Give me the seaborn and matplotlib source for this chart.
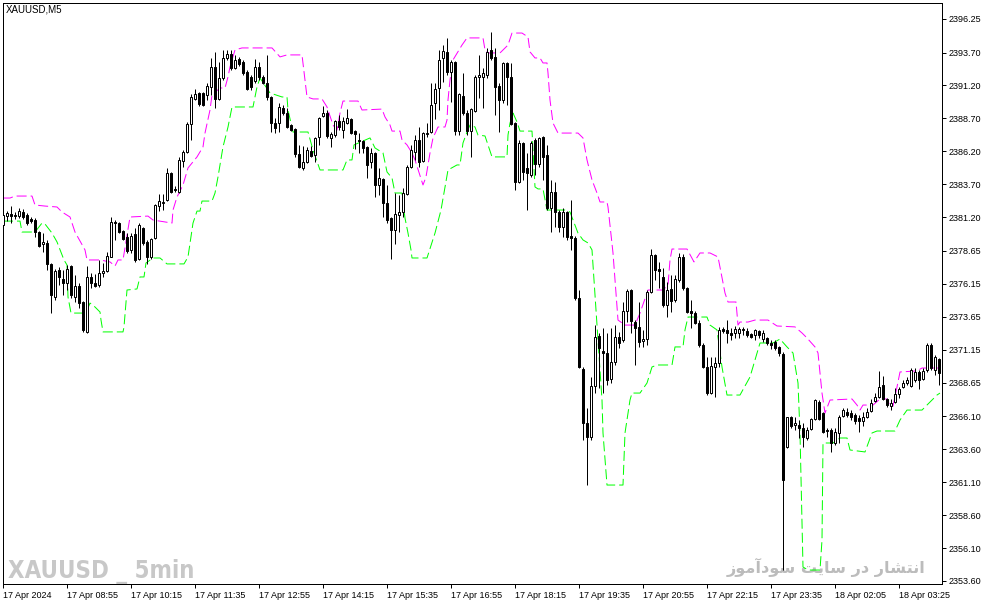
import matplotlib
matplotlib.use("Agg")  # no display
import matplotlib.pyplot as plt
from matplotlib import font_manager
import seaborn as sns
import numpy as np
import pandas as pd

# ─── Data: XAUUSD M5 candles ────────────────────────────────────────────────
opens = [
    2380.61, 2381.29, 2381.45, 2381.37, 2381.29, 2381.60, 2381.37, 2381.07, 2380.99, 2380.08,
    2379.18, 2379.25, 2377.66, 2375.15, 2377.20, 2376.52, 2376.21, 2377.50, 2375.15, 2375.98,
    2374.77, 2372.50, 2376.67, 2376.21, 2376.06, 2376.97, 2377.12, 2378.19, 2380.84, 2380.76,
    2380.15, 2379.70, 2378.72, 2379.93, 2378.04, 2380.38, 2379.33, 2378.19, 2379.63, 2382.05,
    2382.28, 2382.51, 2384.56, 2383.35, 2383.12, 2385.47, 2386.16, 2388.28, 2390.18, 2390.63,
    2390.63, 2390.48, 2391.09, 2392.61, 2390.18, 2391.77, 2393.29, 2393.59, 2392.53, 2393.21,
    2392.99, 2392.23, 2391.85, 2391.54, 2392.61, 2391.85, 2391.39, 2390.33, 2388.35, 2388.35,
    2389.49, 2389.11, 2388.20, 2387.90, 2386.00, 2384.94, 2385.40, 2386.23, 2385.93, 2387.29,
    2388.88, 2389.11, 2387.22, 2387.44, 2388.50, 2387.82, 2388.35, 2388.66, 2387.74, 2387.07,
    2386.99, 2386.54, 2385.40, 2386.08, 2383.65, 2384.10, 2382.28, 2381.14, 2380.23, 2381.37,
    2381.60, 2382.97, 2385.02, 2386.16, 2387.07, 2385.47, 2387.52, 2387.67, 2389.87, 2391.01,
    2393.29, 2393.75, 2392.23, 2392.99, 2387.74, 2390.41, 2389.11, 2387.74, 2389.26, 2391.85,
    2391.85, 2392.00, 2393.90, 2393.37, 2391.17, 2390.10, 2392.91, 2391.85, 2388.35, 2383.88,
    2386.84, 2384.94, 2384.41, 2387.07, 2385.24, 2387.29, 2385.93, 2381.90, 2383.12, 2381.60,
    2380.46, 2381.60, 2379.78, 2379.63, 2375.07, 2369.69, 2365.58, 2364.52, 2368.39, 2372.19,
    2371.05, 2370.90, 2368.92, 2370.22, 2372.11, 2371.89, 2374.08, 2375.68, 2373.25, 2372.88,
    2371.81, 2371.96, 2375.53, 2378.34, 2377.27, 2376.67, 2374.54, 2375.76, 2374.92, 2376.44,
    2378.19, 2375.83, 2374.08, 2373.93, 2373.17, 2371.51, 2369.84, 2367.86, 2369.84, 2370.14,
    2372.72, 2372.65, 2372.42, 2372.42, 2372.42, 2372.72, 2372.57, 2372.34, 2372.27, 2372.57,
    2371.96, 2372.04, 2371.66, 2371.74, 2371.36, 2370.83, 2363.77, 2366.04, 2365.43, 2365.43,
    2365.21, 2364.45, 2365.13, 2365.89, 2367.18, 2366.34, 2365.06, 2365.06, 2364.07, 2364.83,
    2366.11, 2366.42, 2366.34, 2366.19, 2365.96, 2365.74, 2366.04, 2366.49, 2367.26, 2367.56,
    2368.47, 2367.41, 2366.87, 2367.18, 2367.79, 2368.32, 2368.62, 2368.39, 2368.85, 2369.46,
    2368.92, 2369.61, 2371.51, 2369.61, 2370.45,
]
highs = [
    2381.52, 2381.67, 2382.05, 2381.60, 2381.90, 2381.83, 2381.52, 2381.22, 2381.14, 2380.15,
    2380.00, 2379.48, 2377.73, 2377.27, 2377.43, 2377.20, 2377.58, 2377.58, 2376.82, 2376.21,
    2374.84, 2377.50, 2376.97, 2376.90, 2377.96, 2377.73, 2378.57, 2381.22, 2380.99, 2380.84,
    2380.23, 2380.00, 2380.00, 2380.38, 2380.76, 2380.46, 2379.48, 2379.63, 2382.21, 2382.97,
    2382.97, 2384.94, 2384.64, 2383.58, 2385.78, 2386.31, 2388.43, 2390.56, 2390.94, 2390.71,
    2390.71, 2391.39, 2393.29, 2393.75, 2392.99, 2393.90, 2393.90, 2393.90, 2393.52, 2393.37,
    2393.14, 2392.38, 2392.00, 2393.21, 2392.99, 2392.00, 2393.52, 2390.41, 2388.73, 2389.87,
    2389.72, 2389.49, 2388.28, 2387.97, 2386.69, 2386.61, 2386.54, 2386.61, 2387.29, 2388.81,
    2389.64, 2389.34, 2387.67, 2388.58, 2388.96, 2388.81, 2389.41, 2388.73, 2387.82, 2387.59,
    2387.07, 2386.61, 2386.46, 2386.16, 2384.94, 2384.18, 2383.65, 2381.22, 2383.04, 2382.89,
    2383.42, 2385.17, 2386.69, 2387.44, 2388.05, 2387.67, 2388.35, 2391.39, 2391.39, 2393.90,
    2394.27, 2394.81, 2393.14, 2393.06, 2390.63, 2392.15, 2389.34, 2389.49, 2392.00, 2393.52,
    2392.53, 2394.05, 2395.26, 2394.05, 2391.39, 2392.99, 2392.99, 2392.91, 2388.43, 2387.07,
    2386.92, 2386.08, 2386.99, 2387.22, 2387.29, 2387.37, 2386.69, 2384.03, 2383.88, 2381.75,
    2381.90, 2381.67, 2382.51, 2379.78, 2375.68, 2369.84, 2366.72, 2369.08, 2373.02, 2372.42,
    2372.80, 2372.42, 2372.80, 2373.02, 2372.50, 2374.77, 2375.76, 2375.76, 2373.40, 2374.77,
    2372.65, 2375.68, 2378.79, 2378.42, 2377.81, 2377.35, 2376.29, 2376.82, 2376.82, 2378.49,
    2378.42, 2375.91, 2374.92, 2374.08, 2373.40, 2371.66, 2370.60, 2370.60, 2370.60, 2372.88,
    2372.88, 2373.40, 2372.80, 2372.95, 2372.88, 2372.88, 2372.80, 2372.42, 2372.72, 2372.65,
    2372.65, 2372.11, 2371.89, 2371.89, 2371.43, 2370.98, 2366.04, 2366.11, 2366.04, 2365.81,
    2365.58, 2365.28, 2365.96, 2367.41, 2367.33, 2366.42, 2365.21, 2365.21, 2365.21, 2366.19,
    2366.72, 2366.72, 2366.57, 2366.34, 2366.19, 2366.42, 2366.72, 2367.41, 2367.86, 2369.54,
    2369.15, 2367.48, 2367.41, 2368.24, 2368.32, 2368.85, 2369.08, 2369.76, 2369.76, 2369.61,
    2369.76, 2371.66, 2371.66, 2370.75, 2370.52,
]
lows = [
    2380.00, 2380.91, 2380.76, 2381.07, 2381.14, 2381.07, 2380.61, 2380.76, 2379.70, 2378.95,
    2378.57, 2377.20, 2373.93, 2374.92, 2376.06, 2375.30, 2375.68, 2375.07, 2374.77, 2374.31,
    2372.50, 2372.42, 2375.83, 2375.91, 2375.91, 2376.67, 2377.05, 2378.15, 2379.48, 2380.00,
    2379.48, 2378.49, 2378.49, 2377.81, 2377.96, 2379.10, 2377.66, 2378.04, 2379.55, 2381.67,
    2381.75, 2382.43, 2383.04, 2383.12, 2383.04, 2385.02, 2386.08, 2387.07, 2390.10, 2389.64,
    2389.64, 2390.10, 2390.48, 2389.49, 2390.10, 2391.62, 2393.14, 2392.38, 2392.45, 2392.68,
    2392.00, 2390.86, 2390.86, 2391.39, 2391.62, 2391.32, 2390.10, 2387.67, 2387.59, 2387.67,
    2388.96, 2387.97, 2387.74, 2385.78, 2384.94, 2384.79, 2385.32, 2385.78, 2385.40, 2386.69,
    2388.81, 2387.22, 2386.54, 2387.29, 2387.82, 2387.22, 2388.28, 2387.52, 2386.38, 2386.08,
    2386.08, 2384.18, 2384.94, 2382.74, 2382.89, 2381.22, 2380.76, 2378.04, 2379.18, 2380.08,
    2381.22, 2382.89, 2384.94, 2385.55, 2385.02, 2385.40, 2387.29, 2387.59, 2388.66, 2389.34,
    2391.47, 2392.00, 2389.95, 2387.44, 2387.44, 2388.96, 2387.44, 2385.78, 2389.19, 2390.25,
    2389.49, 2391.77, 2393.14, 2388.96, 2387.67, 2389.87, 2389.72, 2388.20, 2383.27, 2383.80,
    2384.03, 2381.75, 2384.26, 2384.41, 2385.02, 2384.03, 2381.75, 2380.08, 2380.46, 2380.08,
    2379.70, 2379.48, 2378.72, 2374.92, 2369.76, 2364.30, 2360.88, 2364.30, 2367.86, 2368.24,
    2367.86, 2368.47, 2368.62, 2369.99, 2371.28, 2371.74, 2373.25, 2372.42, 2369.99, 2371.36,
    2371.36, 2371.51, 2375.45, 2376.44, 2375.83, 2374.39, 2373.63, 2374.01, 2374.77, 2376.29,
    2375.68, 2373.93, 2372.80, 2373.10, 2371.36, 2369.76, 2367.71, 2367.78, 2367.56, 2369.84,
    2372.42, 2371.66, 2371.89, 2372.04, 2372.04, 2372.27, 2372.11, 2372.04, 2371.89, 2372.04,
    2371.74, 2371.51, 2371.20, 2371.13, 2370.67, 2354.43, 2363.69, 2365.21, 2365.06, 2364.45,
    2363.77, 2364.30, 2365.06, 2365.81, 2365.81, 2364.83, 2364.52, 2363.39, 2363.92, 2364.07,
    2366.04, 2366.04, 2365.81, 2365.51, 2364.91, 2365.36, 2365.96, 2366.42, 2367.18, 2367.48,
    2367.33, 2366.80, 2366.57, 2367.10, 2367.48, 2368.24, 2368.47, 2368.32, 2368.70, 2368.17,
    2368.85, 2369.46, 2369.61, 2369.23, 2368.47,
]
closes = [
    2381.37, 2381.52, 2381.29, 2381.33, 2381.67, 2381.22, 2380.76, 2380.91, 2380.08, 2379.02,
    2379.33, 2377.66, 2375.30, 2377.12, 2376.67, 2376.21, 2377.27, 2375.30, 2375.98, 2374.69,
    2372.65, 2376.67, 2376.21, 2375.98, 2376.97, 2377.12, 2378.26, 2380.84, 2380.76, 2380.08,
    2379.55, 2378.64, 2379.78, 2377.96, 2380.61, 2379.25, 2378.19, 2379.55, 2382.13, 2382.43,
    2382.36, 2384.56, 2383.12, 2383.27, 2385.55, 2386.16, 2388.28, 2390.33, 2390.56, 2389.79,
    2389.72, 2391.17, 2392.61, 2390.18, 2391.77, 2393.29, 2393.59, 2392.53, 2393.14, 2392.84,
    2392.15, 2390.94, 2391.09, 2392.61, 2391.85, 2391.39, 2390.33, 2388.35, 2387.97, 2389.57,
    2389.11, 2388.05, 2387.82, 2386.00, 2385.02, 2385.40, 2386.31, 2385.85, 2387.22, 2388.73,
    2389.11, 2387.37, 2387.52, 2388.50, 2388.05, 2388.50, 2388.73, 2387.59, 2387.52, 2386.99,
    2386.46, 2385.17, 2386.08, 2383.65, 2384.18, 2382.28, 2380.99, 2380.23, 2381.45, 2381.60,
    2383.04, 2385.02, 2386.31, 2387.07, 2385.40, 2387.59, 2387.59, 2389.72, 2390.94, 2393.14,
    2393.82, 2392.23, 2392.99, 2387.74, 2390.56, 2389.11, 2387.74, 2389.41, 2391.85, 2392.00,
    2392.15, 2393.75, 2393.29, 2391.09, 2390.10, 2392.91, 2391.85, 2388.28, 2383.88, 2386.84,
    2384.64, 2384.56, 2386.84, 2385.24, 2387.22, 2385.78, 2381.90, 2383.12, 2381.60, 2380.46,
    2381.60, 2379.70, 2379.63, 2375.07, 2369.84, 2365.58, 2364.52, 2368.39, 2372.11, 2371.28,
    2370.90, 2368.85, 2370.22, 2372.11, 2371.66, 2374.08, 2375.60, 2373.33, 2372.80, 2371.74,
    2371.96, 2375.53, 2378.34, 2377.20, 2377.12, 2374.54, 2375.68, 2374.84, 2376.52, 2378.19,
    2375.83, 2374.01, 2373.93, 2373.17, 2371.51, 2369.84, 2367.86, 2369.91, 2370.14, 2372.65,
    2372.57, 2372.42, 2372.27, 2372.72, 2372.72, 2372.65, 2372.27, 2372.11, 2372.65, 2372.27,
    2372.42, 2371.66, 2371.51, 2371.28, 2370.90, 2361.26, 2366.04, 2365.36, 2365.58, 2365.21,
    2364.52, 2365.06, 2365.89, 2367.33, 2365.89, 2364.91, 2364.98, 2364.07, 2364.91, 2366.04,
    2366.57, 2366.19, 2366.04, 2365.74, 2365.74, 2366.04, 2366.42, 2367.10, 2367.56, 2368.32,
    2367.41, 2366.95, 2367.10, 2367.79, 2368.17, 2368.62, 2368.85, 2369.61, 2369.46, 2368.85,
    2369.54, 2371.51, 2369.76, 2370.60, 2369.38,
]

# Upper (magenta) and lower (green) channel, sampled at bar positions
upper_bar = [
    0, 1.75, 3, 7.25, 8, 10.5, 13.5, 14.75, 16.75, 18,
    20.5, 21, 24.25, 26.75, 28, 28.75, 30, 31.75, 36.25, 37.5,
    42.25, 42.5, 43.5, 45, 46.25, 48.5, 50, 50.5, 51.75, 52.25,
    54.25, 55.5, 56.25, 56.75, 58, 59.75, 67.25, 69.25, 71, 74.75,
    76, 77.5, 79.75, 81, 82.5, 83.5, 84.25, 85, 88.75, 89.75,
    94.75, 95.5, 96.75, 97.25, 99.25, 99.75, 101, 102.25, 103, 105,
    105.75, 106.75, 107.5, 108.75, 110.5, 111, 111.25, 111.75, 112.5, 114.75,
    116, 120, 120.5, 121.25, 124.25, 126.25, 127.25, 129.75, 131.25, 131.75,
    133, 134.25, 135, 136, 136.25, 136.75, 137.5, 138.75, 143.75, 145,
    146, 147.25, 148.5, 149.25, 151, 151.25, 152.5, 153.75, 155.5, 158,
    159.25, 161, 161.25, 165, 166.25, 166.75, 167.25, 171, 172.75, 174.25,
    176.75, 178.75, 180.5, 181.25, 183.25, 183.75, 184.25, 186.25, 188, 191.25,
    193.5, 198, 199.75, 201, 203, 203.75, 204.75, 205.5, 206.75, 212.25,
    213.5, 214.25, 215, 217.5, 219.25, 221, 221.75, 222.5, 223.5, 224.25,
    228.5, 229.75, 234.25,
]
upper_val = [
    2382.66, 2382.66, 2382.81, 2382.81, 2382.13, 2382.05, 2381.98, 2381.60, 2381.22, 2380.08,
    2378.72, 2377.96, 2377.96, 2377.81, 2377.50, 2377.96, 2377.96, 2381.22, 2381.29, 2380.99,
    2380.76, 2381.75, 2382.74, 2383.65, 2384.94, 2385.78, 2386.54, 2387.59, 2389.34, 2390.48,
    2391.01, 2391.01, 2391.85, 2392.61, 2393.90, 2394.05, 2394.05, 2393.37, 2393.52, 2393.52,
    2390.33, 2390.18, 2390.18, 2389.57, 2388.20, 2387.82, 2389.11, 2390.02, 2390.02, 2389.34,
    2389.41, 2388.81, 2388.20, 2387.74, 2387.74, 2387.07, 2386.69, 2386.08, 2385.55, 2383.65,
    2384.26, 2386.08, 2387.22, 2388.05, 2388.05, 2388.58, 2390.10, 2391.62, 2393.14, 2394.27,
    2394.81, 2394.81, 2393.90, 2393.67, 2393.67, 2394.27, 2395.18, 2395.18, 2394.88, 2393.75,
    2393.29, 2393.29, 2392.91, 2392.91, 2392.15, 2390.10, 2388.35, 2387.59, 2387.59, 2387.22,
    2385.55, 2384.03, 2383.04, 2382.36, 2382.36, 2381.98, 2378.49, 2373.40, 2373.02, 2373.02,
    2373.93, 2375.45, 2375.68, 2375.68, 2376.06, 2377.96, 2378.79, 2378.79, 2377.81, 2378.49,
    2378.49, 2378.19, 2375.45, 2374.77, 2374.77, 2373.02, 2373.25, 2373.25, 2373.40, 2373.40,
    2372.95, 2372.88, 2372.42, 2372.04, 2371.36, 2370.90, 2367.86, 2366.34, 2367.33, 2367.41,
    2366.95, 2366.57, 2366.95, 2366.95, 2367.41, 2367.41, 2366.87, 2366.87, 2368.32, 2369.46,
    2369.54, 2369.76, 2369.76,
]
lower_bar = [
    0, 4.25, 4.75, 8, 9.75, 10.5, 12.25, 13.5, 15.25, 16,
    16.25, 17, 20.75, 21.75, 23, 24.25, 24.5, 25, 30, 30.25,
    31, 33.5, 34.25, 35.25, 35.75, 37.5, 39.25, 41, 45.25, 46.25,
    47.5, 48.5, 49.25, 49.75, 52.25, 53, 53.75, 55, 56.25, 57.25,
    62.5, 63.5, 64.25, 66.75, 69.75, 71, 71.25, 72.5, 76.25, 77.5,
    79.25, 85, 86, 87.25, 87.75, 91.75, 93, 95, 96, 97.25,
    98, 99.75, 100.5, 101.25, 102, 102.25, 106, 108, 109.5, 110.5,
    111.25, 113.5, 114.25, 115, 116, 116.75, 118, 118.75, 120.5, 121.25,
    122.25, 126, 126.25, 126.75, 127.5, 128.5, 129.25, 132.25, 132.5, 133,
    133.75, 135, 136, 140.5, 141.75, 143.75, 145, 146.25, 147.25, 149.75,
    150, 151, 155, 155.5, 156.75, 157.25, 159.25, 161, 162.25, 163.5,
    167.25, 168, 170, 170.5, 171.25, 176, 176.75, 178.5, 179.75, 181,
    184.25, 186.75, 188.5, 189.25, 192.5, 194.25, 196, 197.5, 198.75, 199.25,
    200, 201.25, 204.25, 204.75, 205, 207.5, 209.25, 211, 211.75, 215.5,
    217.25, 218.5, 223, 224.25, 226, 229.75, 233.5, 234.25,
]
lower_val = [
    2380.91, 2380.91, 2380.08, 2380.08, 2380.76, 2380.69, 2380.00, 2379.33, 2377.96, 2377.58,
    2375.15, 2373.93, 2373.93, 2374.69, 2374.39, 2374.01, 2373.40, 2372.50, 2372.50, 2372.88,
    2375.68, 2375.76, 2376.67, 2376.67, 2377.73, 2378.11, 2378.11, 2377.66, 2377.66, 2378.19,
    2380.76, 2381.67, 2381.67, 2382.43, 2382.43, 2383.04, 2384.26, 2386.54, 2388.05, 2389.57,
    2389.57, 2391.09, 2391.77, 2390.63, 2390.33, 2390.33, 2389.34, 2387.67, 2387.67, 2386.31,
    2384.79, 2384.79, 2385.55, 2385.55, 2386.69, 2387.22, 2386.46, 2386.08, 2384.64, 2384.18,
    2383.04, 2383.04, 2381.14, 2380.00, 2378.72, 2378.11, 2378.11, 2380.00, 2381.75, 2383.50,
    2384.79, 2385.17, 2385.17, 2386.84, 2387.67, 2388.20, 2388.05, 2387.44, 2387.37, 2386.69,
    2385.78, 2385.78, 2387.44, 2388.35, 2389.11, 2388.43, 2387.74, 2387.74, 2386.31, 2383.50,
    2383.35, 2383.35, 2381.75, 2381.75, 2381.60, 2380.00, 2379.48, 2379.25, 2378.72, 2367.33,
    2364.83, 2360.88, 2360.88, 2364.83, 2367.33, 2367.86, 2367.86, 2368.62, 2369.84, 2369.99,
    2369.99, 2371.36, 2371.36, 2372.65, 2373.63, 2373.63, 2373.02, 2372.65, 2369.84, 2367.71,
    2367.71, 2369.08, 2370.90, 2371.66, 2371.66, 2371.96, 2371.36, 2370.90, 2368.62, 2364.83,
    2354.66, 2354.43, 2354.43, 2356.71, 2364.07, 2364.07, 2364.45, 2364.45, 2363.54, 2363.39,
    2364.83, 2364.98, 2364.98, 2365.81, 2366.57, 2366.57, 2367.71, 2367.86,
]

x_tick_bars = [0, 16, 32, 48, 64, 80, 96, 112, 128, 144, 160, 176, 192, 208, 224]
x_tick_labels = [
    "17 Apr 2024", "17 Apr 08:55", "17 Apr 10:15", "17 Apr 11:35", "17 Apr 12:55",
    "17 Apr 14:15", "17 Apr 15:35", "17 Apr 16:55", "17 Apr 18:15", "17 Apr 19:35",
    "17 Apr 20:55", "17 Apr 22:15", "17 Apr 23:35", "18 Apr 02:05", "18 Apr 03:25",
]
y_tick_values = [
    2396.25, 2393.70, 2391.20, 2388.70, 2386.20, 2383.70, 2381.20, 2378.65, 2376.15,
    2373.65, 2371.15, 2368.65, 2366.10, 2363.60, 2361.10, 2358.60, 2356.10, 2353.60,
]
y_tick_labels = [f"{v:.2f}" for v in y_tick_values]

# matplotlib has no Arabic shaping, so the Persian watermark is written
# with presentation forms in visual (left-to-right) order:
# "انتشار در سایت سودآموز"
persian_mark = ("\uFEAF\uFEEE\uFEE3\uFE81\uFEA9\uFEEE\uFEB3 "
                "\uFE96\uFEF3\uFE8E\uFEB3 "
                "\uFEAD\uFEA9 "
                "\uFEAD\uFE8E\uFEB8\uFE98\uFEE7\uFE8D")

# ─── Style ──────────────────────────────────────────────────────────────────
sns.set_style("white", {"axes.edgecolor": "black"})
plt.rcParams["font.family"] = ["Liberation Sans", "DejaVu Sans"]

W, H = 987, 605
PX = 72 / 100  # one pixel in points at dpi 100


def pick_narrow_bold():
    """Find a condensed bold face if one is installed, else None."""
    for f in font_manager.fontManager.ttflist:
        name = f.name.lower()
        narrow = ("narrow" in name or "condensed" in name
                  or f.stretch in ("condensed", "semi-condensed", "extra-condensed"))
        bold = f.weight in ("bold", 700, "heavy", 800, 900, "black")
        if narrow and bold:
            return font_manager.FontProperties(fname=f.fname)
    return None


fig = plt.figure(figsize=(W / 100, H / 100), dpi=100)
ax = fig.add_axes([3 / W, 21 / H, 939 / W, 581 / H])

candles = pd.DataFrame({"open": opens, "high": highs, "low": lows, "close": closes})
candles["bar"] = np.arange(len(candles))
bull = candles["close"] >= candles["open"]

# channels
upper = pd.DataFrame({"bar": upper_bar, "price": upper_val})
lower = pd.DataFrame({"bar": lower_bar, "price": lower_val})
sns.lineplot(data=upper, x="bar", y="price", ax=ax, color="#ff00ff", lw=PX,
             linestyle=(0, (10, 4)), estimator=None, sort=False, zorder=2)
sns.lineplot(data=lower, x="bar", y="price", ax=ax, color="#00ff00", lw=PX,
             linestyle=(0, (10, 4)), estimator=None, sort=False, zorder=2)

# candles: wicks then bodies
ax.vlines(candles["bar"], candles["low"], candles["high"], color="black", lw=PX, zorder=3)
ax.bar(candles["bar"], (candles["close"] - candles["open"]).abs(),
       bottom=candles[["open", "close"]].min(axis=1), width=0.5,
       color=np.where(bull, "white", "black"), edgecolor="black",
       linewidth=PX, zorder=4)

# texts
ax.text(6 / W, 1 - 10 / H, "XAUUSD,M5", transform=fig.transFigure,
        fontsize=7, ha="left", va="center", color="black", zorder=6)

narrow_fp = pick_narrow_bold()
if narrow_fp is not None:
    wm = ax.text(8 / W, 1 - 578 / H, "XAUUSD _ 5min", transform=fig.transFigure,
                 fontproperties=narrow_fp, fontsize=24, color="#c8c8c8",
                 ha="left", va="baseline", zorder=1)
else:
    wm = ax.text(8 / W, 1 - 578 / H, "XAUUSD _ 5min", transform=fig.transFigure,
                 fontsize=18, fontweight="bold", color="#c8c8c8",
                 family=["Liberation Sans", "DejaVu Sans"],
                 ha="left", va="baseline", zorder=1)
fa = ax.text(925 / W, 1 - 573 / H, persian_mark, transform=fig.transFigure,
             fontsize=12, fontweight="bold", color="#bcbcbc", ha="right",
             va="baseline", family=["DejaVu Sans"], zorder=1)

# axes
ax.set_xlim(0, 234.75)
ax.set_ylim(2353.37, 2397.46)
ax.set_xlabel("")
ax.set_ylabel("")
ax.set_xticks(x_tick_bars)
ax.set_xticklabels(x_tick_labels, ha="left")
ax.yaxis.tick_right()
ax.set_yticks(y_tick_values)
ax.set_yticklabels(y_tick_labels)
ax.tick_params(axis="x", bottom=True, direction="out", length=3, width=PX,
               pad=2, labelsize=6.5, colors="black")
ax.tick_params(axis="y", right=True, left=False, direction="out", length=3,
               width=PX, pad=2, labelsize=6.5, colors="black")
for s in ax.spines.values():
    s.set_visible(True)
    s.set_color("black")
    s.set_linewidth(PX)
ax.grid(False)

# fit the two watermarks to the widths they take in the reference
fig.canvas.draw()
renderer = fig.canvas.get_renderer()
for txt, target in ((wm, 187), (fa, 198)):
    width = txt.get_window_extent(renderer).width
    txt.set_fontsize(txt.get_fontsize() * target / width)

fig.savefig("out.png", dpi=100, facecolor="white")
